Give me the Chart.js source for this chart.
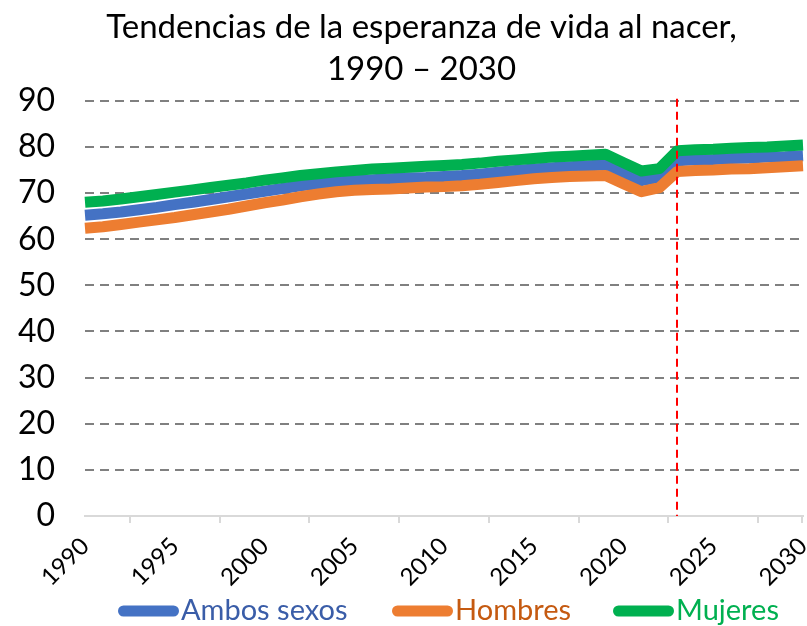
<!DOCTYPE html>
<html>
<head>
<meta charset="utf-8">
<script src="https://cdn.jsdelivr.net/npm/chart.js@4/dist/chart.umd.min.js"></script>
<style>
  html, body { margin: 0; padding: 0; background: #fff; }
  #wrap { width: 807px; height: 626px; }
</style>
</head>
<body>
<div id="wrap"><canvas id="grafica"></canvas></div>
<script>
//--------Datos
const anios = []
for (let a = 1990; a <= 2030; a++) anios.push(a)

const ambosSexos = [
  65.2, 65.5, 65.9, 66.4, 66.9, 67.5, 68.0, 68.6, 69.2, 69.8,
  70.4, 71.0, 71.6, 72.0, 72.4, 72.7, 72.9, 73.1, 73.3, 73.4,
  73.6, 73.8, 74.1, 74.5, 74.9, 75.2, 75.5, 75.7, 75.9, 76.1,
  74.4, 72.7, 73.4, 77.0, 77.2, 77.3, 77.5, 77.6, 77.8, 77.9,
  78.1
]
const hombres = [
  62.4, 62.7, 63.2, 63.7, 64.2, 64.7, 65.3, 65.9, 66.5, 67.2,
  67.9, 68.5, 69.2, 69.8, 70.3, 70.6, 70.8, 70.9, 71.1, 71.3,
  71.4, 71.6, 71.9, 72.3, 72.7, 73.1, 73.4, 73.6, 73.7, 73.8,
  72.0, 70.3, 71.2, 74.7, 74.9, 75.0, 75.2, 75.3, 75.5, 75.7,
  75.9
]
const mujeres = [
  68.0, 68.3, 68.7, 69.2, 69.7, 70.2, 70.7, 71.2, 71.7, 72.2,
  72.8, 73.3, 73.8, 74.2, 74.6, 74.9, 75.2, 75.4, 75.6, 75.8,
  76.0, 76.2, 76.5, 76.9, 77.2, 77.5, 77.8, 78.0, 78.2, 78.4,
  76.6, 74.8, 75.3, 79.2, 79.4, 79.5, 79.7, 79.9, 80.0, 80.2,
  80.4
]
const anioProyeccion = 2023 // linea roja discontinua

const titulo = ["Tendencias de la esperanza de vida al nacer,", "1990 \u2013 2030"]

const colorAmbos = "#4472C4"
const colorHombres = "#ED7D31"
const colorMujeres = "#00B050"
const fuente = "Lato, 'Open Sans', sans-serif"

//--------Linea vertical roja + marcas del eje X (entre categorias, cada 5)
const lineaProyeccion = {
  id: "lineaProyeccion",
  afterDatasetsDraw(chart) {
    const xScale = chart.scales.x
    const area = chart.chartArea
    const ctx = chart.ctx

    ctx.save()
    ctx.strokeStyle = "#D9D9D9"
    ctx.lineWidth = 2
    ctx.beginPath()
    for (let i = 2.5; i < anios.length; i += 5) {
      const xm = Math.round(xScale.getPixelForValue(i))
      ctx.moveTo(xm, area.bottom)
      ctx.lineTo(xm, area.bottom + 7)
    }
    const xFin = Math.round(xScale.getPixelForValue(anios.length - 1)) - 1
    ctx.moveTo(xFin, area.bottom)
    ctx.lineTo(xFin, area.bottom + 7)
    ctx.stroke()

    const x = Math.round(xScale.getPixelForValue(anios.indexOf(anioProyeccion)))
    ctx.strokeStyle = "#FF0000"
    ctx.lineWidth = 2
    ctx.setLineDash([8, 5])
    ctx.beginPath()
    ctx.moveTo(x, area.top - 2)
    ctx.lineTo(x, area.bottom)
    ctx.stroke()
    ctx.restore()
  }
}

//--------Titulo un poco a la derecha, como en el original
const moverTitulo = {
  id: "moverTitulo",
  afterLayout(chart) {
    if (chart.titleBlock) {
      chart.titleBlock.left += 20
      chart.titleBlock.right += 20
    }
  }
}

//--------Leyenda dibujada a mano (simbolo pegado al texto)
const leyenda = {
  id: "leyenda",
  afterDraw(chart) {
    const ctx = chart.ctx
    const y = 611
    const inicios = [118, 392, 613]
    ctx.save()
    ctx.font = "29px " + fuente
    ctx.textBaseline = "middle"
    chart.data.datasets.forEach((ds, i) => {
      const x = inicios[i]
      ctx.fillStyle = ds.borderColor
      ctx.beginPath()
      ctx.roundRect(x, y - 5.5, 61, 11, 5.5)
      ctx.fill()
      ctx.fillStyle = ds.textoLeyenda
      ctx.fillText(ds.label, x + 63, y)
    })
    ctx.restore()
  }
}

const serie = (label, data, color, colorTexto, orden) => ({
  label: label,
  data: data,
  borderColor: color,
  backgroundColor: color,
  textoLeyenda: colorTexto,
  borderWidth: 11,
  pointRadius: 0,
  tension: 0,
  borderJoinStyle: "round",
  order: orden
})

const grafica = new Chart(document.getElementById("grafica"), {
  type: "line",
  data: {
    labels: anios,
    datasets: [
      serie("Ambos sexos", ambosSexos, colorAmbos, "#3A5DA8", 3),
      serie("Hombres", hombres, colorHombres, "#C55A11", 2),
      serie("Mujeres", mujeres, colorMujeres, "#00B050", 1)
    ]
  },
  options: {
    responsive: true,
    maintainAspectRatio: false,
    animation: false,
    layout: { padding: { left: 0, right: 4, top: 0, bottom: 20 } },
    plugins: {
      title: {
        display: true,
        text: titulo,
        color: "#000",
        font: { family: fuente, size: 33, weight: "normal", lineHeight: 1.27 },
        padding: { top: 6, bottom: 11 }
      },
      legend: { display: false },
      tooltip: { enabled: false }
    },
    scales: {
      x: {
        grid: { display: false },
        border: { display: true, color: "#D9D9D9", width: 2 },
        afterFit(scale) {
          scale.paddingLeft = 0
          scale.paddingRight = 0
          scale.height = 90
        },
        ticks: {
          autoSkip: false,
          minRotation: 45,
          maxRotation: 45,
          padding: 8,
          color: "#000",
          font: { family: fuente, size: 24 },
          callback: function (valor, i) {
            return anios[i] % 5 === 0 ? String(anios[i]) : ""
          }
        }
      },
      y: {
        min: 0,
        max: 90,
        afterFit(scale) {
          scale.width = 85
        },
        ticks: {
          stepSize: 10,
          padding: 30,
          color: "#000",
          font: { family: fuente, size: 32 }
        },
        grid: {
          color: ctx => ctx.tick && ctx.tick.value === 0 ? "rgba(0,0,0,0)" : "#808080",
          lineWidth: 2,
          drawTicks: false
        },
        border: { display: false, dash: [9, 6] }
      }
    }
  },
  plugins: [lineaProyeccion, moverTitulo, leyenda]
})
</script>
</body>
</html>
